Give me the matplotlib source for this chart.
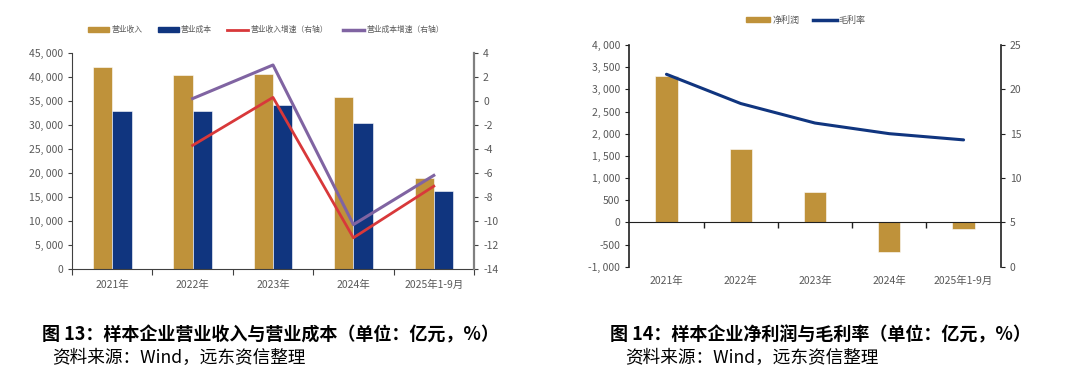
import numpy as np
import matplotlib
matplotlib.use('Agg')
import matplotlib.pyplot as plt
from matplotlib.ticker import FuncFormatter, MultipleLocator
from matplotlib.lines import Line2D
from matplotlib.patches import Patch

plt.rcParams['font.family'] = ['Noto Sans CJK SC', 'DejaVu Sans']
plt.rcParams['axes.unicode_minus'] = False

categories = ['2021年', '2022年', '2023年', '2024年', '2025年1-9月']

# 图13
revenue = [42000, 40400, 40600, 35900, 18900]
cost = [33000, 33000, 34100, 30500, 16200]
revenue_growth = [np.nan, -3.7, 0.3, -11.4, -7.1]
cost_growth = [np.nan, 0.2, 3.0, -10.3, -6.2]

# 图14
net_profit = [3300, 1660, 690, -670, -160]
gross_margin = [21.7, 18.4, 16.2, 15.0, 14.3]

GOLD = '#BF923A'
NAVY = '#10357F'
RED = '#D8383A'
PURPLE = '#8064A2'
TICK_C = '#595959'

fig = plt.figure(figsize=(10.78, 3.84), dpi=100)
x = np.arange(len(categories))


def thousands(v, pos):
    return f'{v:,.0f}'.replace(',', ', ')


def style_axis(ax, labelsize=7.5):
    ax.tick_params(axis='both', labelsize=labelsize, colors=TICK_C, length=3, width=0.8)


# ---------- left chart ----------
ax1 = fig.add_axes([0.0668, 0.2995, 0.3729, 0.5625])
w = 0.24
ax1.bar(x - w / 2, revenue, w, color=GOLD, edgecolor='white', linewidth=0.4, zorder=2)
ax1.bar(x + w / 2, cost, w, color=NAVY, edgecolor='white', linewidth=0.4, zorder=2)
ax1.set_xlim(-0.5, len(categories) - 0.5)
ax1.set_ylim(0, 45000)
ax1.yaxis.set_major_locator(MultipleLocator(5000))
ax1.yaxis.set_major_formatter(FuncFormatter(thousands))
ax1.set_xticks(x)
ax1.set_xticklabels(categories)
ax1.set_xticks(np.arange(-0.5, len(categories), 1), minor=True)
style_axis(ax1)
ax1.tick_params(axis='x', which='major', length=0, pad=8)
ax1.tick_params(axis='x', which='minor', length=4, width=0.8, color='#404040')
ax1.tick_params(axis='y', color='#404040')
ax1.spines['top'].set_visible(False)
ax1.spines['right'].set_visible(False)
ax1.spines['left'].set_color('#404040')
ax1.spines['bottom'].set_color('#404040')

ax1r = ax1.twinx()
ax1r.plot(x, revenue_growth, color=RED, lw=2, zorder=3)
ax1r.plot(x, cost_growth, color=PURPLE, lw=2.2, zorder=3)
ax1r.set_ylim(-14, 4)
ax1r.yaxis.set_major_locator(MultipleLocator(2))
ax1r.spines['top'].set_visible(False)
ax1r.spines['left'].set_visible(False)
ax1r.spines['bottom'].set_visible(False)
ax1r.spines['right'].set_color('#808080')
ax1r.spines['right'].set_linewidth(1.6)
style_axis(ax1r)
ax1r.tick_params(axis='y', color='#404040')

handles1 = [Patch(color=GOLD), Patch(color=NAVY),
            Line2D([], [], color=RED, lw=2), Line2D([], [], color=PURPLE, lw=2.5)]
labels1 = ['营业收入', '营业成本', '营业收入增速（右轴）', '营业成本增速（右轴）']
fig.legend(handles1, labels1, loc='center', bbox_to_anchor=(266 / 1078, 1 - 30 / 384),
           ncol=4, frameon=False, fontsize=5.6, handlelength=2.7, handleheight=0.6,
           handletextpad=0.25, columnspacing=2.0, labelcolor=TICK_C)

# ---------- right chart ----------
ax2 = fig.add_axes([0.5838, 0.3055, 0.3445, 0.5773])
w2 = 0.3
ax2.bar(x, net_profit, w2, color=GOLD, edgecolor='white', linewidth=0.4, zorder=2)
ax2.set_xlim(-0.5, len(categories) - 0.5)
ax2.set_ylim(-1000, 4000)
ax2.yaxis.set_major_locator(MultipleLocator(500))
ax2.yaxis.set_major_formatter(FuncFormatter(thousands))
ax2.spines['top'].set_visible(False)
ax2.spines['right'].set_visible(False)
ax2.spines['bottom'].set_position(('data', 0))
ax2.spines['bottom'].set_color('#202020')
ax2.spines['left'].set_color('#202020')
ax2.spines['left'].set_linewidth(1.2)
ax2.set_xticks(np.arange(0.5, len(categories) - 0.5, 1))
ax2.set_xticklabels([])
style_axis(ax2)
ax2.tick_params(axis='x', direction='out', length=4, width=1, color='#202020')
ax2.tick_params(axis='y', color='#202020')
label_y = -1000 - 5000 * 9 / 221.7
for xi, lab in zip(x, categories):
    ax2.text(xi, label_y, lab, ha='center', va='top', fontsize=7.5, color=TICK_C)

ax2r = ax2.twinx()
ax2r.plot(x, gross_margin, color=NAVY, lw=2.2, zorder=3, solid_capstyle='round')
ax2r.set_ylim(0, 25)
ax2r.yaxis.set_major_locator(MultipleLocator(5))
ax2r.spines['top'].set_visible(False)
ax2r.spines['left'].set_visible(False)
ax2r.spines['bottom'].set_visible(False)
ax2r.spines['right'].set_color('#202020')
ax2r.spines['right'].set_linewidth(1.2)
style_axis(ax2r)
ax2r.tick_params(axis='y', color='#202020')

handles2 = [Patch(color=GOLD), Line2D([], [], color=NAVY, lw=2.5)]
labels2 = ['净利润', '毛利率']
fig.legend(handles2, labels2, loc='center', bbox_to_anchor=(806 / 1078, 1 - 20 / 384),
           ncol=2, frameon=False, fontsize=6.5, handlelength=2.66, handleheight=0.5,
           handletextpad=0.2, columnspacing=1.5, labelcolor=TICK_C)

# ---------- captions ----------
fig.text(42 / 1078, 1 - 335 / 384, '图 13：样本企业营业收入与营业成本（单位：亿元，%）',
         fontsize=13, fontweight='bold', va='center', ha='left', color='black')
fig.text(52 / 1078, 1 - 358 / 384, '资料来源：Wind，远东资信整理',
         fontsize=12.7, va='center', ha='left', color='black')
fig.text(610 / 1078, 1 - 335 / 384, '图 14：样本企业净利润与毛利率（单位：亿元，%）',
         fontsize=13, fontweight='bold', va='center', ha='left', color='black')
fig.text(625 / 1078, 1 - 358 / 384, '资料来源：Wind，远东资信整理',
         fontsize=12.7, va='center', ha='left', color='black')

fig.savefig('out.png', dpi=100)
